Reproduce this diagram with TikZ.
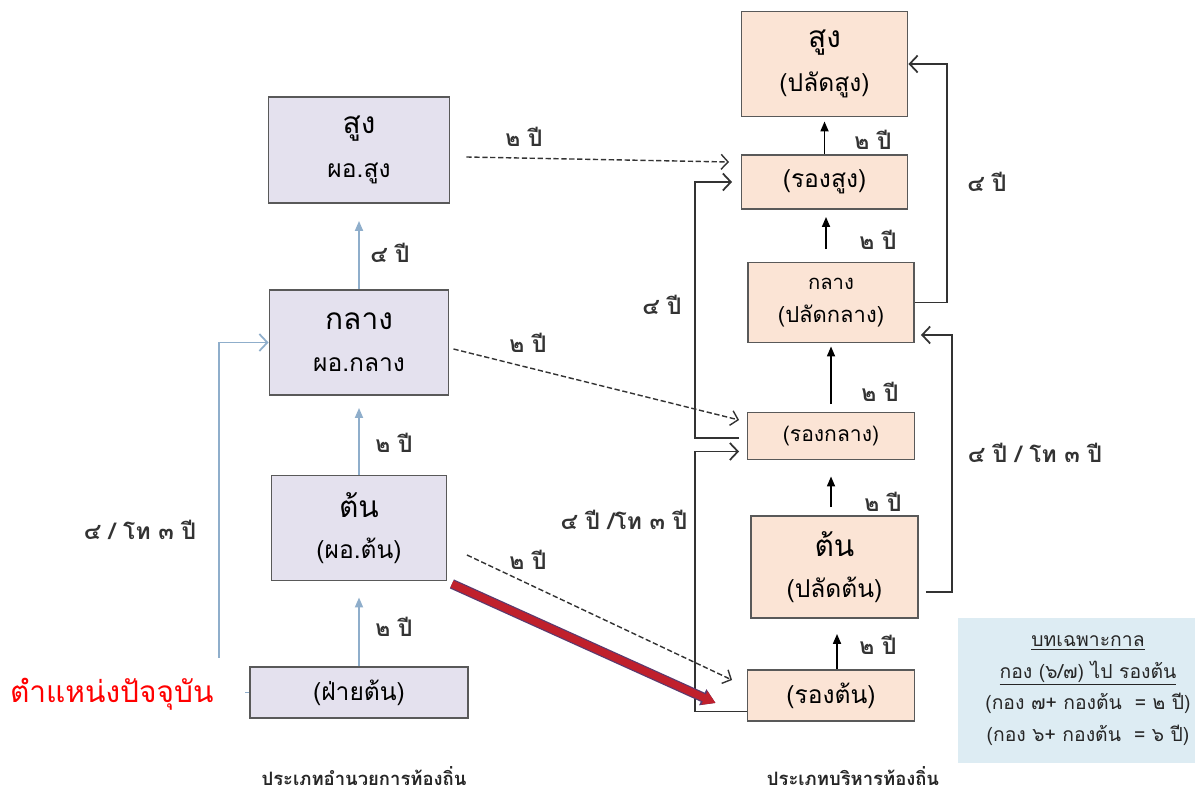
\documentclass[tikz,border=0pt]{standalone}
\usepackage{fontspec}
\setmainfont{Loma}[Script=Thai]
\usepackage{tikz}
\usetikzlibrary{arrows.meta, positioning}

\definecolor{lilac}{HTML}{E4E1EE}
\definecolor{peach}{HTML}{FBE4D5}
\definecolor{steel}{HTML}{8FAECB}
\definecolor{frame}{HTML}{595959}
\definecolor{notebg}{HTML}{DDECF3}
\definecolor{redbar}{HTML}{C0202C}
\definecolor{redrim}{HTML}{5B3A6E}

\newcommand\headT{\fontsize{17}{20}\selectfont}
\newcommand\subT{\fontsize{14}{17}\selectfont}

\tikzset{
    lbox/.style={draw=frame, line width=1.1pt, fill=lilac, align=center, inner sep=0pt},
    rbox/.style={draw=frame, line width=1.1pt, fill=peach, align=center, inner sep=0pt},
    barrow/.style={draw=steel, line width=1pt, -{Triangle[length=0.2cm,width=0.16cm]}},
    bloop/.style={draw=steel, line width=1pt, -{Straight Barb[length=0.16cm,width=0.34cm]}},
    karrow/.style={draw=black, line width=1pt, -{Triangle[length=0.2cm,width=0.16cm]}},
    kloop/.style={draw=black!80, line width=1pt, -{Straight Barb[length=0.16cm,width=0.34cm]}},
    dasharrow/.style={draw=black!80, line width=0.8pt, dash pattern=on 3pt off 1.5pt, -{Straight Barb[length=0.14cm,width=0.3cm]}},
    redarrow/.style={draw=redbar, line width=4.2pt, -{Triangle[length=7pt,width=8pt]},
        preaction={draw=redrim, line width=5.6pt, -{Triangle[length=8pt,width=9.5pt]}}},
    yr/.style={font=\fontsize{13}{15}\selectfont\bfseries, text=black!80, inner sep=1pt},
    caption/.style={font=\fontsize{10.5}{12}\selectfont\bfseries, text=black!85},
    note/.style={fill=notebg, align=center, inner sep=0pt, font=\fontsize{11}{18}\selectfont, text=black!85}
}

\begin{document}
\begin{tikzpicture}[x=0.02cm, y=-0.02cm]
    \useasboundingbox (0,0) rectangle (1195,793);

    % local administration column
    \node[lbox, minimum width=3.62cm, minimum height=2.12cm] (Lsung) at (359,150) {\headT สูง\\[11pt] \subT ผอ.สูง};
    \node[lbox, minimum width=3.58cm, minimum height=2.1cm] (Lklang) at (359,342.5) {\headT กลาง\\[12pt] \subT ผอ.กลาง};
    \node[lbox, minimum width=3.5cm, minimum height=2.1cm] (Lton) at (359,528) {\headT ต้น\\[11pt] \subT (ผอ.ต้น)};
    \node[lbox, minimum width=4.36cm, minimum height=1.02cm] (Lfai) at (359,692.5) {\subT (ฝ่ายต้น)};

    % local executive column
    \node[rbox, minimum width=3.32cm, minimum height=2.1cm] (Rsung) at (824.5,64) {\headT สูง\\[8pt] \subT (ปลัดสูง)};
    \node[rbox, minimum width=3.32cm, minimum height=1.08cm] (Rrongsung) at (824.5,182) {\subT (รองสูง)};
    \node[rbox, minimum width=3.32cm, minimum height=1.6cm] (Rklang) at (831,302.5) {\fontsize{11.5}{14}\selectfont กลาง\\[7pt] \fontsize{12.5}{15}\selectfont (ปลัดกลาง)};
    \node[rbox, minimum width=3.34cm, minimum height=0.94cm] (Rrongklang) at (831,436) {\fontsize{12}{14}\selectfont (รองกลาง)};
    \node[rbox, minimum width=3.34cm, minimum height=2.04cm] (Rton) at (834.5,567) {\headT ต้น\\[11pt] \subT (ปลัดต้น)};
    \node[rbox, minimum width=3.34cm, minimum height=1.02cm] (Rrongton) at (831,695.5) {\subT (รองต้น)};

    \draw[barrow, shorten >=0.34cm] (Lklang.north) -- (Lklang.north |- Lsung.south);
    \draw[barrow, shorten >=0.24cm] (Lton.north) -- (Lton.north |- Lklang.south);
    \draw[barrow, shorten >=0.32cm] (Lfai.north) -- (Lfai.north |- Lton.south);
    \draw[bloop] (Lfai.west) -- ++(-30,0) |- (Lklang.west);

    \draw[karrow, shorten >=0.08cm] (Rrongsung.north) -- (Rrongsung.north |- Rsung.south);
    \draw[karrow, shorten <=0.25cm, shorten >=0.14cm] ([xshift=-0.1cm]Rklang.north) -- ([xshift=-0.1cm]Rklang.north |- Rrongsung.south);
    \draw[karrow, shorten <=0.15cm, shorten >=0.06cm] (Rrongklang.north) -- (Rrongklang.north |- Rklang.south);
    \draw[karrow, shorten <=0.16cm, shorten >=0.32cm] ([xshift=-0.07cm]Rton.north) -- ([xshift=-0.07cm]Rton.north |- Rrongklang.south);
    \draw[karrow, shorten >=0.3cm] ([xshift=0.12cm]Rrongton.north) -- ([xshift=0.12cm]Rrongton.north |- Rton.south);

    \draw[kloop] (Rklang.east) -- ++(32,0) |- (Rsung.east);
    \draw[kloop] ([xshift=0.14cm,yshift=-0.5cm]Rton.east) -- ++(26,0) |- ([xshift=0.12cm,yshift=-0.65cm]Rklang.east);
    \draw[kloop] ([xshift=-0.15cm,yshift=-0.04cm]Rrongklang.west) -- ++(-44,0) |- ([xshift=-0.17cm]Rrongsung.west);
    \draw[kloop] ([yshift=-0.32cm]Rrongton.west) -- ++(-51.5,0) |- ([xshift=-0.15cm,yshift=-0.31cm]Rrongklang.west);

    \draw[dasharrow] ([xshift=0.32cm,yshift=-0.14cm]Lsung.east) -- ([xshift=-0.23cm,yshift=0.4cm]Rrongsung.west);
    \draw[dasharrow] ([xshift=0.08cm,yshift=-0.13cm]Lklang.east) -- ([xshift=-0.15cm,yshift=0.32cm]Rrongklang.west);
    \draw[dasharrow] ([xshift=0.39cm,yshift=-0.54cm]Lton.east) -- ([xshift=-0.29cm,yshift=0.31cm]Rrongton.west);

    % year labels
    \node[yr] (y1) at (390,253) {๔ ปี};
    \node[yr] (y2) at (394,443) {๒ ปี};
    \node[yr] (y3) at (394,627) {๒ ปี};
    \node[yr] (y4) at (140,530) {๔ / โท ๓ ปี};
    \node[yr] (d1) at (524,137) {๒ ปี};
    \node[yr] (d2) at (528,343) {๒ ปี};
    \node[yr] (d3) at (528,560) {๒ ปี};
    \node[yr] (r1) at (873,140) {๒ ปี};
    \node[yr] (r2) at (878,240) {๒ ปี};
    \node[yr] (r3) at (880,392) {๒ ปี};
    \node[yr] (r4) at (883,502) {๒ ปี};
    \node[yr] (r5) at (878,645) {๒ ปี};
    \node[yr] (r6) at (987,182) {๔ ปี};
    \node[yr] (r7) at (1035,453) {๔ ปี / โท ๓ ปี};
    \node[yr] (r8) at (662,305) {๔ ปี};
    \node[yr] (r9) at (624,520) {๔ ปี /โท ๓ ปี};

    \node[caption] (capL) at (364,776) {ประเภทอำนวยการท้องถิ่น};
    \node[caption] (capR) at (853,776) {ประเภทบริหารท้องถิ่น};

    \node[note, minimum width=5.2cm, minimum height=2.9cm] (rule) at (1088,690.5)
        {\underline{บทเฉพาะกาล}\\ \underline{กอง (๖/๗) ไป รองต้น}\\ (กอง ๗+ กองต้น \ = ๒ ปี)\\ (กอง ๖+ กองต้น \ = ๖ ปี)};

    \node[fill=white, text=red, inner sep=0pt, text width=4.9cm, align=left, minimum height=1.44cm,
        font=\fontsize{17}{20}\selectfont] (now) at (122.5,694) {\hspace*{0.2cm}ตำแหน่งปัจจุบัน};

    \draw[redarrow] ([xshift=0.09cm,yshift=-0.05cm]Lton.south east) -- ([xshift=-0.62cm,yshift=-0.15cm]Rrongton.west);
\end{tikzpicture}
\end{document}
